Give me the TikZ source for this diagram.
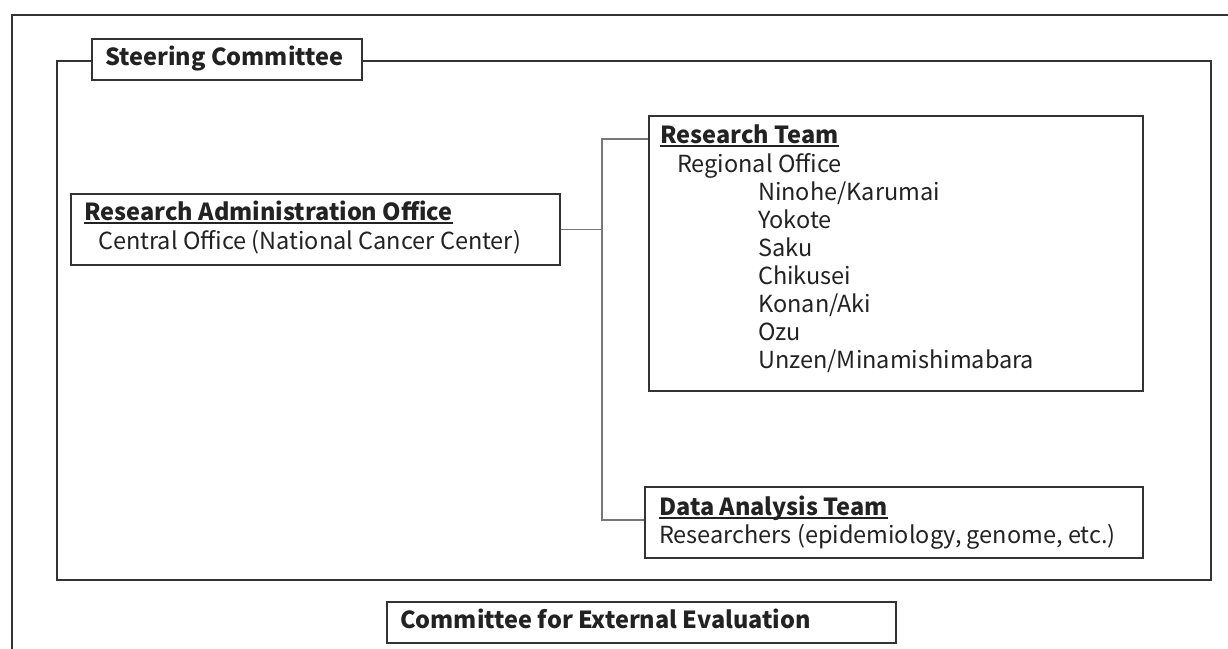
\documentclass[tikz,border=0pt]{standalone}
\usepackage{fontspec}
\setmainfont{Noto Sans CJK JP}
\newcommand\myul[1]{\setbox0\hbox{#1}\rlap{\rule[-3.5pt]{\wd0}{1.8pt}}\box0}
\definecolor{boxline}{HTML}{333333}
\definecolor{connline}{HTML}{777777}
\definecolor{ink}{HTML}{222222}
\begin{document}
\begin{tikzpicture}[x=1pt,y=-1pt,
  box/.style={draw=boxline, line width=1.5pt, fill=white, rectangle, inner sep=0pt, anchor=north west},
  frame/.style={draw=boxline, line width=1.8pt},
  conn/.style={draw=connline, line width=1.2pt},
  txt/.style={inner sep=0pt, anchor=base west, text=ink, font=\fontsize{23.5}{28}\selectfont},
  head/.style={txt, font=\fontsize{23.5}{28}\selectfont\bfseries},
]
\useasboundingbox (0,0) rectangle (1228,648);
% outer frame (cropped)
\coordinate (otr) at (1228,15);
\coordinate (otl) at (12,15);
\coordinate (obl) at (12,649);
\draw[frame] (otr) -- (otl) -- (obl);

% steering committee group
\node[box, minimum width=270pt, minimum height=41pt] (sc) at (91,38) {};
\coordinate (ftl) at (57,61);
\coordinate (fbl) at (57,580);
\coordinate (fbr) at (1211,580);
\coordinate (ftr) at (1211,61);
\draw[frame] (sc.west |- ftl) -- (ftl) -- (fbl) -- (fbr) -- (ftr) -- (sc.east |- ftr);
\node[head] (sct) at (105,65) {Steering Committee};

% boxes
\node[box, minimum width=489pt, minimum height=71pt] (rao) at (70,193) {};
\node[box, minimum width=494pt, minimum height=275pt] (rt) at (648,115) {};
\node[box, minimum width=498pt, minimum height=71pt] (dat) at (644,486) {};
\node[box, minimum width=509pt, minimum height=41pt] (cee) at (386,601) {};

% texts
\node[head] (raot) at (84,220) {\myul{Research Administration Office}};
\node[txt] (raos) at (98,249) {Central Office (National Cancer Center)};

\node[head] (rtt) at (660,143) {\myul{Research Team}};
\node[txt] (rt0) at (677,172) {Regional Office};
\node[txt] (rt1) at (758,200) {Ninohe/Karumai};
\node[txt] (rt2) at (758,228) {Yokote};
\node[txt] (rt3) at (758,256) {Saku};
\node[txt] (rt4) at (758,284) {Chikusei};
\node[txt] (rt5) at (758,312) {Konan/Aki};
\node[txt] (rt6) at (758,340) {Ozu};
\node[txt] (rt7) at (758,368) {Unzen/Minamishimabara};

\node[head] (datt) at (659,515) {\myul{Data Analysis Team}};
\node[txt] (dats) at (659,543) {Researchers (epidemiology, genome, etc.)};

\node[head] (ceet) at (400,628) {Committee for External Evaluation};

% connectors
\coordinate (jt) at (602,139);
\coordinate (jb) at (602,520);
\draw[conn] (rao.east) -- (rao.east -| jt);
\draw[conn] (rt.west |- jt) -- (jt) -- (jb) -- (dat.west |- jb);
\end{tikzpicture}
\end{document}
